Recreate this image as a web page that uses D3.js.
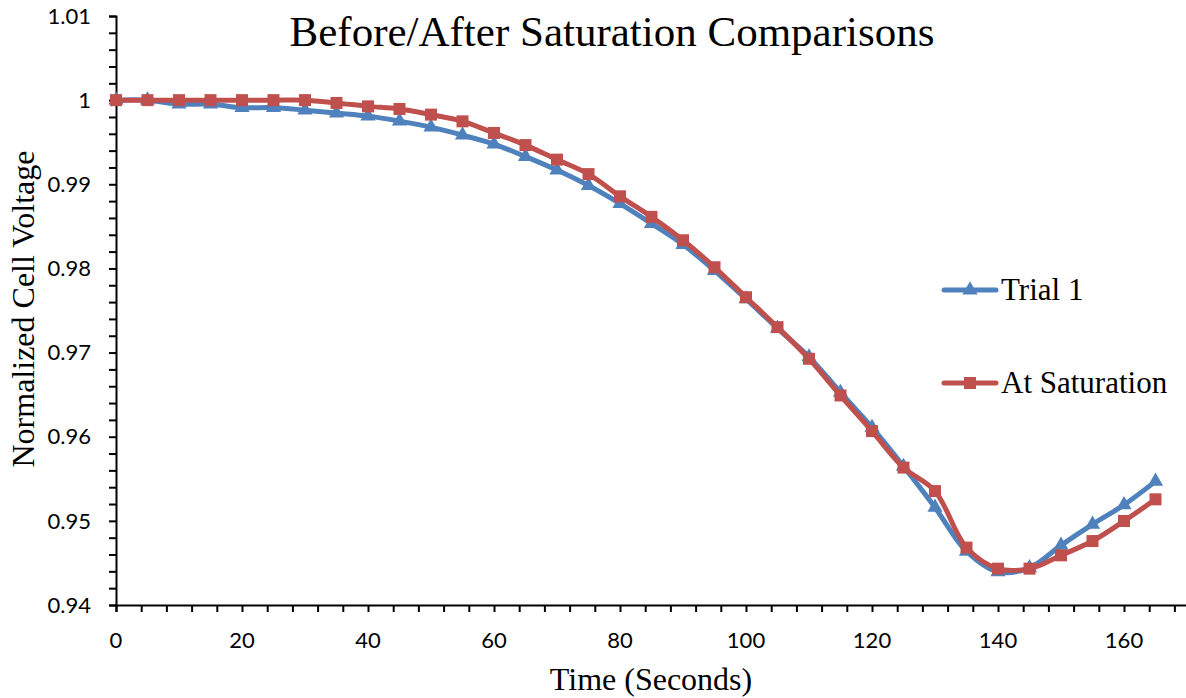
<!DOCTYPE html>
<html>
<head>
<meta charset="utf-8">
<script src="https://cdn.jsdelivr.net/npm/d3@7"></script>
<style>
  body { margin: 0; background: #fff; }
  svg { display: block; }
</style>
</head>
<body>
<div id="chart"></div>
<script>
// time in seconds, sampled every 5 s
const times = [0, 5, 10, 15, 20, 25, 30, 35, 40, 45, 50, 55, 60, 65, 70, 75, 80, 85, 90, 95,
  100, 105, 110, 115, 120, 125, 130, 135, 140, 145, 150, 155, 160, 165];

const trial1 = [1.0000, 1.0000, 0.99952, 0.99952, 0.99911, 0.99911, 0.99881, 0.99846, 0.99810, 0.99751,
  0.99679, 0.99584, 0.99477, 0.99329, 0.99169, 0.98985, 0.98771, 0.98533, 0.98284, 0.97975,
  0.97637, 0.97287, 0.96948, 0.96526, 0.96110, 0.95647, 0.95160, 0.94638, 0.94394, 0.94442,
  0.94709, 0.94958, 0.95190, 0.95469];

const atSaturation = [1.0000, 1.0000, 1.0000, 1.0000, 1.0000, 1.0000, 1.0000, 0.99967, 0.99926, 0.99895,
  0.99828, 0.99748, 0.99610, 0.99466, 0.99293, 0.99121, 0.98857, 0.98613, 0.98335, 0.98014,
  0.97658, 0.97302, 0.96926, 0.96490, 0.96067, 0.95633, 0.95354, 0.94682, 0.94432, 0.94432,
  0.94590, 0.94760, 0.94998, 0.95256];

const seriesNames = ["Trial 1", "At Saturation"];
const seriesColors = ["#4f81bd", "#c0504d"];

const xTicks = [0, 20, 40, 60, 80, 100, 120, 140, 160];
const yTicks = [0.94, 0.95, 0.96, 0.97, 0.98, 0.99, 1.00, 1.01];
const yTickLabels = ["0.94", "0.95", "0.96", "0.97", "0.98", "0.99", "1", "1.01"];

// chart size
let svgWidth = 1186;
let svgHeight = 698;

let xScale = d3.scaleLinear()
  .domain([0, 170])
  .range([116, 1187]);

let yScale = d3.scaleLinear()
  .domain([0.94, 1.01])
  .range([605, 16]);

let svg = d3.select("#chart").append("svg")
  .attr("width", svgWidth)
  .attr("height", svgHeight);

// minor ticks (every 4 s on x, every 0.002 on y)
let xMinor = d3.range(0, 170.01, 4);
let yMinor = d3.range(0, 36).map(function(i) { return 0.94 + i * 0.002; });

let xAxis = d3.axisBottom(xScale)
  .tickValues(xMinor)
  .tickSize(7)
  .tickFormat("");

let yAxis = d3.axisLeft(yScale)
  .tickValues(yMinor)
  .tickSize(7)
  .tickFormat("");

let xAxisG = svg.append("g")
  .attr("transform", "translate(0," + yScale(0.94) + ")")
  .call(xAxis);

let yAxisG = svg.append("g")
  .attr("transform", "translate(" + xScale(0) + ",0)")
  .call(yAxis);

[xAxisG, yAxisG].forEach(function(g) {
  g.select(".domain").attr("stroke", "#000").attr("stroke-width", 2);
  g.selectAll(".tick line").attr("stroke", "#000").attr("stroke-width", 2);
});

// tick labels
svg.append("g").selectAll("text")
  .data(xTicks)
  .enter()
  .append("text")
  .attr("x", function(d) { return xScale(d); })
  .attr("y", 648)
  .attr("text-anchor", "middle")
  .style("font-family", "Lato, sans-serif")
  .style("font-size", "22px")
  .text(function(d) { return d; });

svg.append("g").selectAll("text")
  .data(yTicks)
  .enter()
  .append("text")
  .attr("x", 91)
  .attr("y", function(d) { return yScale(d); })
  .attr("dy", "0.35em")
  .attr("text-anchor", "end")
  .style("font-family", "Lato, sans-serif")
  .style("font-size", "22px")
  .text(function(d, i) { return yTickLabels[i]; });

// series
let allSeries = [trial1, atSaturation];
let symbols = [d3.symbolTriangle, d3.symbolSquare];
let symbolSizes = [100, 144];

let line = d3.line()
  .x(function(d, i) { return xScale(times[i]); })
  .y(function(d) { return yScale(d); })
  .curve(d3.curveCatmullRom.alpha(0.5));

allSeries.forEach(function(values, s) {
  svg.append("path")
    .datum(values)
    .attr("d", line)
    .attr("fill", "none")
    .attr("stroke", seriesColors[s])
    .attr("stroke-width", 5)
    .attr("stroke-linejoin", "round");

  svg.append("g").selectAll("path")
    .data(values)
    .enter()
    .append("path")
    .attr("d", d3.symbol().type(symbols[s]).size(symbolSizes[s]))
    .attr("transform", function(d, i) { return "translate(" + xScale(times[i]) + "," + yScale(d) + ")"; })
    .attr("fill", seriesColors[s]);
});

// legend
let legendY = [290, 383];
seriesNames.forEach(function(name, s) {
  let g = svg.append("g");
  g.append("line")
    .attr("x1", 944).attr("x2", 996)
    .attr("y1", legendY[s]).attr("y2", legendY[s])
    .attr("stroke", seriesColors[s])
    .attr("stroke-width", 5)
    .attr("stroke-linecap", "round");
  g.append("path")
    .attr("d", d3.symbol().type(symbols[s]).size(symbolSizes[s]))
    .attr("transform", "translate(970," + legendY[s] + ")")
    .attr("fill", seriesColors[s]);
  g.append("text")
    .attr("x", 1001)
    .attr("y", legendY[s])
    .attr("dy", "0.33em")
    .style("font-family", "'Liberation Serif', 'Times New Roman', serif")
    .style("font-size", "31px")
    .text(name);
});

// titles
svg.append("text")
  .attr("x", 612)
  .attr("y", 46)
  .attr("text-anchor", "middle")
  .style("font-family", "'Liberation Serif', 'Times New Roman', serif")
  .style("font-size", "43px")
  .text("Before/After Saturation Comparisons");

svg.append("text")
  .attr("x", 651)
  .attr("y", 690)
  .attr("text-anchor", "middle")
  .style("font-family", "'Liberation Serif', 'Times New Roman', serif")
  .style("font-size", "32px")
  .text("Time (Seconds)");

svg.append("text")
  .attr("transform", "translate(34,309) rotate(-90)")
  .attr("text-anchor", "middle")
  .style("font-family", "'Liberation Serif', 'Times New Roman', serif")
  .style("font-size", "32px")
  .text("Normalized Cell Voltage");
</script>
</body>
</html>
